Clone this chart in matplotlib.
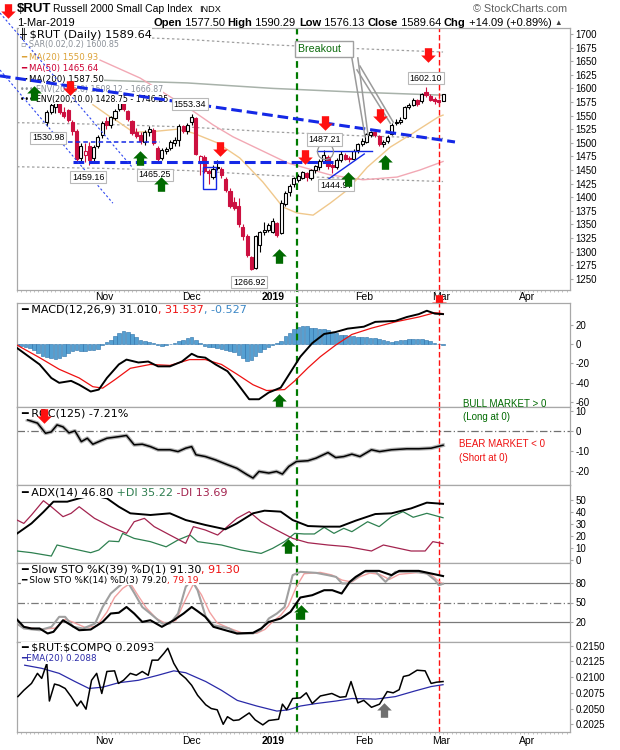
import numpy as np
import matplotlib
matplotlib.use("Agg")
import matplotlib.pyplot as plt
from matplotlib.path import Path
from matplotlib.patches import Rectangle

plt.rcParams["font.family"] = ["Liberation Sans", "DejaVu Sans"]
plt.rcParams["axes.unicode_minus"] = False

# x axis = trading day index: 0 = 4 Oct 2018, 20 = 1 Nov, 60 = 2 Jan 2019, 100 = 1 Mar 2019
month_pos = [20.5, 41, 60.2, 81.5, 99.5, 119.7]
month_lbl = ["Nov", "Dec", "2019", "Feb", "Mar", "Apr"]

# ---- daily candles, index 7 .. 100
bar_start = 7
opens = [1538, 1556, 1566, 1572, 1556, 1560, 1538, 1522, 1472, 1478, 1494, 1472, 1494,
         1514, 1540, 1532, 1546, 1562, 1576, 1558, 1540, 1520, 1514, 1502, 1520, 1524, 1490, 1472, 1485, 1490, 1500, 1505, 1530, 1522,
         1538, 1546, 1462, 1474, 1448, 1438, 1456, 1452, 1434, 1412, 1392, 1384, 1345, 1328, 1290, 1270, 1312, 1336, 1340,
         1336, 1352, 1334, 1388, 1410, 1424, 1432, 1436, 1444, 1436, 1450, 1456, 1466, 1474, 1460, 1456, 1468, 1478, 1472, 1470, 1486,
         1498, 1502, 1514, 1520, 1512, 1498, 1504, 1516, 1536, 1538, 1546, 1566, 1570, 1578, 1576, 1594, 1586, 1580, 1578,
         1577.50]
highs = [1560, 1575, 1580, 1576, 1566, 1562, 1542, 1526, 1500, 1500, 1502, 1496, 1514,
         1540, 1548, 1550, 1562, 1582, 1578, 1560, 1542, 1528, 1520, 1524, 1530, 1527, 1494, 1490, 1492, 1506, 1510, 1534, 1533, 1536,
         1553.34, 1548, 1478, 1477, 1452, 1460, 1468, 1456, 1437, 1416, 1400, 1398, 1350, 1333, 1292, 1330, 1338, 1354, 1352,
         1362, 1354, 1394, 1412, 1424, 1438, 1442, 1448, 1446, 1452, 1460, 1470, 1487.21, 1478, 1462, 1472, 1485, 1481, 1476, 1488, 1500,
         1508, 1518, 1522, 1522, 1514, 1506, 1514, 1536, 1544, 1548, 1568, 1574, 1582, 1580, 1592, 1602.10, 1590, 1584, 1581,
         1590.29]
lows = [1531, 1552, 1555, 1552, 1545, 1538, 1515, 1466, 1466, 1464, 1459.16, 1466, 1490,
        1508, 1526, 1528, 1542, 1558, 1558, 1540, 1515, 1508, 1498, 1496, 1512, 1496, 1465.25, 1468, 1480, 1487, 1494, 1494, 1518, 1517,
        1532, 1478, 1440, 1444, 1425, 1434, 1450, 1436, 1410, 1380, 1376, 1345, 1322, 1290, 1266.92, 1268, 1300, 1330, 1336,
        1334, 1326, 1332, 1384, 1402, 1418, 1428, 1434, 1430, 1432, 1444, 1450, 1462, 1452, 1444.97, 1452, 1465, 1468, 1464, 1468, 1482,
        1494, 1500, 1510, 1510, 1494, 1492, 1500, 1514, 1532, 1535, 1544, 1562, 1568, 1568, 1574, 1584, 1576, 1572, 1570,
        1576.13]
closes = [1556, 1570, 1574, 1556, 1549, 1542, 1522, 1471, 1495, 1485, 1469, 1492, 1511,
          1536, 1532, 1547, 1558, 1578, 1562, 1543, 1518, 1512, 1503, 1520, 1526, 1499, 1470, 1486, 1488, 1502, 1506, 1531, 1521, 1533,
          1548, 1480, 1476, 1449, 1445, 1452, 1454, 1440, 1414, 1384, 1380, 1350, 1328, 1293, 1268, 1328, 1336, 1339, 1348,
          1356, 1330, 1390, 1407, 1420, 1435, 1439, 1446, 1438, 1450, 1458, 1466, 1478, 1458, 1456, 1468, 1480, 1471, 1470, 1485, 1498,
          1503, 1516, 1520, 1515, 1498, 1502, 1510, 1533, 1538, 1541, 1566, 1570, 1578, 1572, 1589, 1588, 1578, 1576, 1575.5,
          1589.64]

# ---- overlays on the price panel
ma20_i = [17.8, 21.8, 23.5, 27.2, 31.2, 37.6, 41.3, 47, 52.3, 57.7, 62.4, 65.7, 69.5, 73.5, 77.5, 82.2, 87.6, 93, 98.8, 100]
ma20_v = [1570, 1548, 1540, 1520, 1520, 1525, 1518, 1500, 1472, 1428, 1382, 1371, 1367, 1389, 1413, 1455, 1492, 1518, 1547, 1550.93]
ma50_i = [19.5, 28.9, 41, 46, 50.7, 58.7, 63.5, 73.5, 81.2, 89.2, 94.6, 100]
ma50_v = [1652, 1619, 1560, 1533, 1511, 1481, 1463, 1441, 1432, 1437, 1450, 1465.64]
ma200_i = [0, 20, 40, 60, 80, 100]
ma200_v = [1618, 1615, 1610, 1600, 1593, 1587.50]
env5_hi = [1699, 1696, 1690, 1680, 1673, 1666.87]
env5_lo = [1537, 1534, 1529, 1520, 1513, 1508.12]
env10_lo = [1456, 1453, 1449, 1440, 1434, 1428.75]

label_i = [7.3, 16.7, 32.4, 40.6, 54.5, 72.2, 74.9, 96]
label_p = [1509, 1437, 1441, 1571, 1244, 1506, 1422, 1619]
label_txt = ["1530.98", "1459.16", "1465.25", "1553.34", "1266.92", "1487.21", "1444.97", "1602.10"]

dn_i = [-2.1, 12.4, 47.7, 67.7, 72.4, 85.1, 96.4, 99.1]
dn_p = [1742, 1600, 1489.5, 1473, 1535.5, 1550, 1660.5, 1207]
up_i = [3.9, 28.9, 33.8, 61.4, 77.8, 86.4]
up_p = [1592, 1471.5, 1425, 1291, 1434, 1464]

# ---- MACD(12,26,9)
macd_i = [0, 5.3, 8.05, 9.9, 12.7, 14.6, 17.3, 19.2, 21.1, 23.9, 25.7, 28.5, 30.8, 33.1, 35.9, 38.7, 41, 42.4, 44.2, 46.6,
          49.4, 51.6, 54.5, 56.8, 59.1, 61.9, 64.2, 66.5, 69.3, 72.1, 74.8, 77.6, 81.4, 84.1, 88.8, 91.5, 94.3, 96.2, 98.1, 100]
macd_v = [-4, -21, -35, -40, -38, -42, -49, -47, -35, -21, -16, -19, -18, -23, -23, -18, -10, -13, -14, -21,
          -28, -40, -57, -57, -50, -45, -29, -13, 1, 10.5, 12.5, 16, 18, 23, 24, 28, 31, 34.5, 31.5, 31.01]
sig_i = [0, 5.3, 9.9, 14.6, 17.8, 20.1, 22.9, 26.6, 31.3, 35.9, 40.5, 44.2, 48, 51.6, 55.4, 58.6, 62.8, 65.2, 68.3, 71.2,
         74.8, 78.6, 83.2, 88.8, 94.3, 98.1, 100]
sig_v = [-1, -14, -26, -35, -44, -45.5, -37, -25, -21, -22, -16, -16, -21, -31, -42, -48, -47, -38, -24.5, -13,
         -1, 10, 16.5, 23, 28, 32.5, 31.54]
macd_hist = [-1, -2, -3, -4, -6, -9, -12, -13, -14, -15,
             -14, -12, -9, -7, -6, -7, -7, -6, -6, -5,
             -1, 2, 4, 8, 11, 14, 13, 10, 7, 4,
             3, 2, 1, -1, -2, -1, 0, 1, 3, 4,
             6, 7, 4, 1, -2, -3, -3, -4, -5, -6,
             -7, -8, -11, -14, -17, -16, -12, -8, -5, -3,
             -1, 1, 3, 8, 12, 16, 18, 19, 19, 17,
             17, 16, 16, 15, 13, 11, 9, 9, 8, 8,
             7, 7, 7, 6, 6, 5, 4, 3, 2, 3,
             4, 4, 5, 5, 5, 5, 4, 3, 1, 0.5,
             -0.5]

# ---- ROC(125)
roc_i = [2.5, 4.8, 6.7, 8.05, 9.4, 10.8, 12.2, 13.6, 15.1, 16.5, 17.8, 19.2, 21.1, 23.9, 25.7, 27.5, 29.4, 31.3, 33.1, 35.9,
         37.8, 39.6, 41, 42, 44.2, 46.6, 49.4, 51.6, 54, 55.4, 56.8, 59.1, 60.9, 62.3, 63.8, 65.6, 68.3, 70.2, 73, 74.8,
         76.7, 78.6, 80.5, 83.2, 85.1, 87.9, 91.5, 94.3, 97.2, 100]
roc_v = [5.5, 3.9, -1.2, -0.5, 3, 2, -1, 0, -5.4, -3.7, -6.7, -5.4, -3.7, -2.9, -2.3, -7, -6.7, -7.9, -9.5, -9.5,
         -10.4, -8.7, -7.9, -12, -12.9, -14.6, -17, -18.8, -22, -23.7, -20.4, -21.2, -20.4, -21.7, -17.9, -15.4, -15, -13.7, -10.9, -13.4,
         -12.9, -11.7, -12.9, -9.5, -10.4, -9.5, -9, -9, -8.7, -7.21]

# ---- ADX(14)
adx_i = [0, 3.4, 6.2, 8.55, 11.8, 14.6, 17.7, 21.1, 23.9, 26.6, 31.3, 35.9, 39.6, 44.2, 48.9, 51.6, 55.4, 58.1, 61.9, 64.7,
         68.3, 72.1, 75.8, 79.5, 84.1, 87.9, 92.5, 96.2, 100]
adx_v = [22, 30.5, 40, 48.6, 48.6, 51.4, 54, 51.4, 44.4, 38.9, 37.5, 38.9, 33.3, 29.2, 25.6, 30.5, 38.9, 41.1, 40.3, 33.3,
         28.3, 27.8, 27.8, 32.8, 38.3, 38.9, 43, 47.8, 46.8]
pdi_i = [0, 3.4, 8.05, 9.4, 12.7, 17.3, 19.2, 21.6, 23.9, 24.8, 27.5, 31.3, 35, 37.8, 40.6, 42.4, 48, 52.6, 57.3, 60,
         62.8, 65.2, 67.4, 69.8, 72.1, 74.4, 76.7, 78.6, 82.3, 85, 87.9, 90.6, 93, 96.2, 100]
pdi_v = [7.5, 6.1, 3.3, 12.5, 9.7, 6.1, 8.3, 15.8, 15.3, 22.2, 18, 15.3, 11, 16.7, 20.8, 15.3, 12.5, 8.3, 5.5, 9.7,
         15.3, 22.2, 21.7, 21.7, 27.2, 22.2, 26.4, 23.6, 31.9, 27.8, 36.1, 40.3, 35.6, 38.9, 35.22]
mdi_i = [0, 1.6, 3.4, 6.2, 8.05, 10.8, 12.7, 14.6, 18.2, 22, 25.7, 27.5, 29.9, 32.2, 35.9, 39.6, 41.4, 44.2, 47.1, 49.8,
         51.6, 54.5, 57.3, 60.9, 64.7, 68.3, 73, 77.6, 83.2, 86, 92.5, 95.8, 97.6, 100]
mdi_v = [33.3, 30.5, 37.5, 49.4, 44.4, 36.1, 38.9, 44.4, 34.7, 27.8, 22.2, 31.9, 34.7, 27.8, 20.8, 13.9, 27.8, 25, 20.8, 29.2,
         34.7, 40.3, 31.9, 25, 18, 14.4, 12.5, 11.1, 7.5, 12.5, 7.5, 7.5, 15.3, 13.69]

# ---- Slow stochastics
k39_i = [0, 1.6, 3.4, 5.3, 7.2, 8.55, 10.8, 12.7, 14.6, 17.3, 20.1, 22, 23.9, 25.7, 27.5, 29.4, 31.3, 34, 36.8, 39.1,
         41, 42.4, 44.2, 46.1, 48.9, 51.6, 55.4, 57.3, 59.1, 61.9, 64.2, 66.5, 69.3, 72.1, 74, 76.2, 78.1, 79.5, 81.8, 85,
         87.9, 89.7, 94.3, 97.2, 100]
k39_v = [23.4, 12, 9.4, 9.4, 1.6, 4.2, 22.3, 14.5, 6.7, 7.8, 19.7, 32.8, 34, 43, 32.8, 19.7, 22.3, 12, 22.3, 32.8,
         43, 36.4, 27.6, 12, 6.7, 1.6, 2.6, 9.4, 19.7, 25, 35.4, 57.8, 61.4, 69.2, 69.2, 64, 82.2, 90, 99.4, 99.4,
         92.7, 99.4, 99.4, 95.3, 91.3]
k14_i = [0, 1.6, 5.3, 8.1, 9.9, 11.3, 13.2, 15.5, 18.3, 20.1, 22, 23.8, 25.7, 27.6, 29.4, 31.3, 34.1, 35.9, 37.8, 39.6,
         41, 42.4, 44.3, 46.1, 48, 49.8, 51.7, 55.4, 57.2, 59.1, 61, 62.8, 64.7, 66.5, 70.2, 73, 74.9, 76.3, 77.7, 79.5,
         81.4, 84.2, 86.5, 88.8, 93.4, 96.2, 98.1, 99, 100]
k14_v = [17, 9.4, 6.7, 12, 27.6, 27.6, 12, 9.4, 17, 43, 64, 74.5, 85, 64, 43, 32.8, 17, 17, 32.8, 74.5,
         85, 69, 27.6, 14.5, 12, 9.4, 1.6, 1.6, 6.7, 25, 32.8, 43, 92.7, 97.9, 96.3, 92.7, 90, 79.7, 79.7, 87.5,
         97.9, 97.9, 82.2, 97.9, 97.9, 95.3, 85, 77, 79.2]
d3_i = [0, 1.6, 5.3, 9, 11.3, 13.6, 16, 18.7, 21.1, 22.9, 24.8, 26.6, 28.5, 30.3, 32.7, 35, 37.3, 39.6, 41.5, 43.3,
        45.2, 47, 49.8, 52.6, 56.3, 58.2, 60, 61.9, 63.7, 65.6, 67.4, 71.2, 73.9, 76.3, 78.6, 80.4, 82.8, 85.1, 87.4, 89.7,
        94.4, 97.1, 99, 100]
d3_v = [16, 12, 8, 10, 24, 18, 11, 13, 35, 58, 72, 80, 60, 42, 25, 17, 22, 55, 80, 62,
        35, 18, 10, 3, 2, 8, 20, 30, 45, 75, 95, 97, 93, 85, 82, 90, 96, 94, 86, 94,
        97, 94, 83, 79.19]

# ---- $RUT:$COMPQ ratio
ratio_i = [0.2, 1.6, 3.4, 4.8, 5.8, 7, 7.6, 8.8, 9.9, 11.3, 12.7, 14.1, 15, 16.2, 17.5, 18.7, 19.9, 21.1, 22.9, 23.8,
           25, 26.6, 28, 29.4, 30.8, 31.7, 33.1, 34.5, 35.4, 36.8, 38.2, 39.6, 41, 42.4, 44.3, 45.6, 47, 48.4, 49.4, 50.8,
           52.1, 54.5, 55.9, 57.7, 59.1, 61.4, 62.3, 63.3, 64.7, 66.5, 67.9, 69.3, 71.2, 73.9, 75.8, 77.2, 78.4, 80, 81.4, 83.2,
           85.1, 86.9, 88.3, 89.7, 90.7, 92, 93.9, 95.8, 97.2, 98.5, 100]
ratio_v = [0.2069, 0.2079, 0.2090, 0.2106, 0.2098, 0.2122, 0.2062, 0.2089, 0.2087, 0.2082, 0.2069, 0.2054, 0.2062, 0.2049, 0.2095,
           0.2106, 0.2074, 0.2109, 0.2110, 0.2090, 0.2095, 0.2106, 0.2103, 0.2109, 0.2103, 0.2127, 0.2127, 0.2138, 0.2146, 0.2122,
           0.2106, 0.2098, 0.2087, 0.2071, 0.2056, 0.2050, 0.2048, 0.2025, 0.2037, 0.2031, 0.2032, 0.2043, 0.2032, 0.2024, 0.2031,
           0.2033, 0.2057, 0.2048, 0.2066, 0.2067, 0.2075, 0.2058, 0.2070, 0.2074, 0.2068, 0.2069, 0.2093, 0.2059, 0.2063, 0.2052,
           0.2057, 0.2077, 0.2075, 0.2080, 0.2101, 0.2103, 0.2111, 0.2110, 0.2090, 0.2092, 0.2093]
ema_i = [1.8, 5.8, 9.9, 13.6, 16.9, 20.1, 23.8, 28.5, 33.1, 36.8, 39.6, 44.3, 48, 51.7, 56.3, 61, 63.7, 66.5, 70.2, 74.9,
         78.6, 84.2, 88.8, 93.4, 97.2, 100]
ema_v = [0.2119, 0.2114, 0.2106, 0.2093, 0.2082, 0.2084, 0.2091, 0.2095, 0.2103, 0.2110, 0.2107, 0.2093, 0.2079, 0.2063, 0.2054,
         0.2046, 0.2048, 0.2054, 0.2058, 0.2062, 0.2066, 0.2065, 0.2069, 0.2078, 0.2085, 0.2088]

# ---- layout (pixels)
W, H = 620, 750
LEFT, RIGHT = 17, 570
XMIN, XMAX = 0, 129.8
BREAKOUT_DAY, SIGNAL_DAY = 65.7, 99.1
RED, CANDLE_RED, GREEN = "#ff1010", "#cc1040", "#006a00"
BORDER = "#a8a8a8"

DOWN = Path([(-0.25, 0.5), (0.25, 0.5), (0.25, 0.0), (0.5, 0.0), (0.0, -0.5), (-0.5, 0.0), (-0.25, 0.0), (0, 0)], closed=True)
UP = Path([(-0.25, -0.5), (0.25, -0.5), (0.25, 0.0), (0.5, 0.0), (0.0, 0.5), (-0.5, 0.0), (-0.25, 0.0), (0, 0)], closed=True)

fig = plt.figure(figsize=(W / 100, H / 100), dpi=100)


def panel(top, bottom, ylim, ticks, labels=None):
    ax = fig.add_axes([LEFT / W, 1 - bottom / H, (RIGHT - LEFT) / W, (bottom - top) / H])
    ax.set_xlim(XMIN, XMAX)
    ax.set_ylim(*ylim)
    ax.set_xticks([])
    ax.yaxis.tick_right()
    ax.set_yticks(ticks)
    ax.set_yticklabels(labels if labels else [str(t) for t in ticks])
    ax.tick_params(axis="y", length=2, pad=2, labelsize=7, color=BORDER)
    for s in ax.spines.values():
        s.set_color(BORDER)
        s.set_linewidth(0.9)
    ax.axvline(BREAKOUT_DAY, color="#007a00", lw=1.6, ls=(0, (3, 2)), zorder=2.5)
    ax.axvline(SIGNAL_DAY, color=RED, lw=1.0, ls=(0, (4, 2)), zorder=2.5)
    return ax


def months(ax):
    ax.set_xticks(month_pos)
    ax.set_xticklabels(month_lbl)
    ax.set_xticks(np.arange(0, 130), minor=True)
    ax.tick_params(axis="x", which="major", length=0, pad=1.5, labelsize=7.5)
    ax.tick_params(axis="x", which="minor", length=1.5, color="#b8b8b8")
    ax.get_xticklabels()[2].set_fontweight("bold")


def legend(ax, dy, parts, size=8, dx=4):
    prev = None
    for txt, col in parts:
        kw = dict(color=col, fontsize=size, family="DejaVu Sans", ha="left", zorder=4,
                  bbox=dict(boxstyle="square,pad=0", fc="white", ec="none"))
        if prev is None:
            prev = ax.annotate(txt, xy=(0, 1), xycoords="axes fraction", xytext=(dx, -dy),
                               textcoords="offset pixels", va="center", **kw)
        else:
            prev = ax.annotate(txt, xy=(1, 0), xycoords=prev, va="bottom", **kw)


def arrows(ax, xs, ys, path, color, ms=10.5):
    ax.plot(xs, ys, ls="none", marker=path, ms=ms, mfc=color, mec=color, mew=0, clip_on=False, zorder=7)


# ================= price panel
ax = panel(28, 290, (1229.4, 1711), list(range(1250, 1701, 25)))
ax.axvline(BREAKOUT_DAY, ymin=-13 / 262, ymax=0, color="#007a00", lw=1.6, ls=(0, (3, 2)), clip_on=False)
months(ax)

ax.plot(ma200_i, env5_hi, color="#a0a0a0", lw=0.9, ls=(0, (2, 2)), zorder=2)
ax.plot(ma200_i, env5_lo, color="#a0a0a0", lw=0.9, ls=(0, (2, 2)), zorder=2)
ax.plot(ma200_i, env10_lo, color="#a0a0a0", lw=0.9, ls=(0, (2, 2)), zorder=2)
ax.plot(ma200_i, ma200_v, color="#a8b2aa", lw=1.1, zorder=2)
ax.plot(ma50_i, ma50_v, color="#f2a8b4", lw=1.0, zorder=2)
ax.plot(ma20_i, ma20_v, color="#f0c88c", lw=1.0, zorder=2)

prev_close = opens[0]
for k in range(len(closes)):
    i = bar_start + k
    o, h, l, c = opens[k], highs[k], lows[k], closes[k]
    col = CANDLE_RED if c < prev_close else "black"
    ax.vlines(i, l, h, color=col, lw=0.8, zorder=3)
    face = "white" if c >= o else col
    ax.add_patch(Rectangle((i - 0.36, min(o, c)), 0.72, max(abs(c - o), 0.9),
                           facecolor=face, edgecolor=col, lw=0.8, zorder=3.1))
    prev_close = c

legend(ax, 6.7, [("╫ \\$RUT (Daily) 1589.64", "black")], size=8.2, dx=2)
legend(ax, 16.5, [("▫ SAR(0.02,0.2) 1600.85", "#8a9098")], size=5.8, dx=4)
legend(ax, 29.3, [("━ MA(20) 1550.93", "#dca238")], size=6.2, dx=4)
legend(ax, 40.7, [("━ MA(50) 1465.64", "#cc0033")], size=6.2, dx=4)
legend(ax, 51.7, [("━ MA(200) 1587.50", "black")], size=6.2, dx=4)
legend(ax, 61.7, [("••• ENV(200,5.0) 1508.12 - 1666.87", "#8a9098")], size=5.7, dx=3)
legend(ax, 71.7, [("••• ENV(200,10.0) 1428.75 - 1746.25", "black")], size=5.7, dx=3)

# drawn trendlines
ax.plot([-4, 102.8], [1623, 1501.5], color="#1428e6", lw=2.2, ls=(0, (3.5, 1.6)), clip_on=False, zorder=5)
ax.plot([13.1, 74.6], [1465.3, 1465.3], color="#1428e6", lw=2.2, ls=(0, (3.5, 1.6)), zorder=5)
ax.plot([12, 33.6], [1501.5, 1501.5], color="#1428e6", lw=1.1, ls=(0, (3, 2)), zorder=5)
ax.plot([-4, 27], [1738.6, 1455.5], color="#3048f0", lw=0.8, ls=(0, (2, 2)), clip_on=False, zorder=5)
ax.plot([-4, 22.5], [1633.8, 1389], color="#3048f0", lw=0.8, ls=(0, (2, 2)), clip_on=False, zorder=5)
ax.plot([70.4, 83.3], [1485.5, 1485.5], color="#1428e6", lw=1.0, zorder=5)
ax.plot([72.5, 81.5], [1430, 1479.4], color="#1428e6", lw=1.0, zorder=5)
ax.add_patch(Rectangle((43.7, 1415), 3.0, 41, fill=False, edgecolor="#1428e6", lw=1.0, zorder=5))
ax.plot([72.3], [1485], ls="none", marker="o", ms=11.5, mfc="none", mec="#909090", mew=0.9, zorder=5)

# breakout callout
for xs, ys in [([78.6, 81.7], [1656, 1511]), ([80.0, 82.4], [1656, 1514]),
               ([79.8, 87.6], [1634, 1536]), ([80.5, 88.3], [1641, 1538])]:
    ax.plot(xs, ys, color="#9a9a9a", lw=1.1, zorder=5)
ax.text(65.9, 1672.4, "Breakout   ", ha="left", va="center", color="#0a6a0a", fontsize=7.7, zorder=6.5,
        bbox=dict(boxstyle="square,pad=0.3", fc="white", ec="#a0a0a0", lw=1.0))

for xi, yp, t in zip(label_i, label_p, label_txt):
    ax.text(xi, yp, t, ha="center", va="center", fontsize=6.4, zorder=6,
            bbox=dict(boxstyle="square,pad=0.18", fc="white", ec="#b8b8b8", lw=0.8))

arrows(ax, dn_i, dn_p, DOWN, RED)
arrows(ax, up_i, up_p, UP, GREEN)

# header
fig.text(17 / W, 1 - 9 / H, "\\$RUT", fontsize=9.5, weight="bold", va="center")
fig.text(53 / W, 1 - 9 / H, "Russell 2000 Small Cap Index", fontsize=7.5, va="center")
fig.text(199 / W, 1 - 9.5 / H, "INDX", fontsize=6.6, va="center")
fig.text(567 / W, 1 - 9.5 / H, "© StockCharts.com", fontsize=7.8, va="center", ha="right", color="#606060")
fig.text(17 / W, 1 - 22.7 / H, "1-Mar-2019", fontsize=8, va="center")
prev = fig.text(153 / W, 1 - 22.7 / H, "Open", fontsize=8, weight="bold", va="center")
for txt, bold in [(" 1577.50 ", False), ("High", True), (" 1590.29 ", False), ("Low", True),
                  (" 1576.13 ", False), ("Close", True), (" 1589.64 ", False), ("Chg", True),
                  (" +14.09 (+0.89%) ", False)]:
    prev = ax.annotate(txt, xy=(1, 0), xycoords=prev, va="bottom", ha="left", fontsize=8,
                       weight="bold" if bold else "normal")
ax.annotate("▲", xy=(1, 0.1), xycoords=prev, va="bottom", ha="left", fontsize=5.5, color="#404040")

# ================= MACD
ax = panel(303, 407, (-65, 42.5), [20, 0, -20, -40, -60])
ax.bar(np.arange(len(macd_hist)), macd_hist, width=0.85, color="#55a0d2", edgecolor="#2a6fa8", lw=0.4, zorder=2)
ax.plot(sig_i, sig_v, color="#ee1111", lw=0.9, zorder=3)
ax.plot(macd_i, macd_v, color="black", lw=1.4, zorder=3)
legend(ax, 7, [("━ MACD(12,26,9) 31.010", "black"), (", 31.537", "#ee1111"), (", -0.527", "#3b87c6")])
arrows(ax, [61.4], [-59], UP, GREEN)

# ================= ROC
ax = panel(407, 485, (-27.2, 12), [10, 0, -10, -20])
ax.axhline(0, color="#707070", lw=0.9, ls=(0, (6, 2, 1, 2)), zorder=2)
ax.plot(roc_i, roc_v, color="#b4b4b4", lw=2.8, zorder=2.8)
ax.plot(roc_i, roc_v, color="black", lw=1.1, zorder=3)
legend(ax, 7, [("━ ROC(125) -7.21%", "black")])
arrows(ax, [6.4], [7.5], DOWN, RED)
ax.text(104.6, 13.6, "BULL MARKET > 0", color="#006a00", fontsize=7, va="center", ha="left")
ax.text(104.6, 7.0, "(Long at 0)", color="#006a00", fontsize=7, va="center", ha="left")
ax.text(103.7, -6.5, "BEAR MARKET < 0", color="#ee1111", fontsize=7, va="center", ha="left")
ax.text(103.7, -13.6, "(Short at 0)", color="#ee1111", fontsize=7, va="center", ha="left")

# ================= ADX
ax = panel(485, 563, (-2.5, 62.5), [50, 40, 30, 20, 10, 0])
ax.plot(pdi_i, pdi_v, color="#2e8050", lw=0.9, zorder=3)
ax.plot(mdi_i, mdi_v, color="#a3244f", lw=0.9, zorder=3)
ax.plot(adx_i, adx_v, color="black", lw=1.4, zorder=3)
legend(ax, 7.7, [("━ ADX(14) 46.80", "black"), (" +DI 35.22", "#2e7d4f"), (" -DI 13.69", "#a3244f")])
arrows(ax, [63.7], [11.7], UP, GREEN)

# ================= Slow STO
ax = panel(563, 642, (-11.7, 111.7), [80, 50, 20])
ax.axhline(80, color="#7a7a7a", lw=0.9, zorder=2)
ax.axhline(20, color="#7a7a7a", lw=0.9, zorder=2)
ax.axhline(50, color="#7a7a7a", lw=0.9, ls=(0, (6, 2, 1, 2)), zorder=2)
ax.plot(d3_i, d3_v, color="#f2a0a0", lw=1.0, zorder=3)
ax.plot(k14_i, k14_v, color="#a0a0a0", lw=1.5, zorder=3)
ax.plot(k39_i, k39_v, color="black", lw=1.5, zorder=3.2)
legend(ax, 7, [("━ Slow STO %K(39) %D(1) 91.30", "black"), (", 91.30", "#ee1111")])
legend(ax, 17, [("━ Slow STO %K(14) %D(3) 79.20", "black"), (", 79.19", "#ee1111")], size=6.5)
arrows(ax, [66.6], [34.8], UP, GREEN)

# ================= $RUT:$COMPQ
ax = panel(642, 732, (0.20127, 0.21559), [0.2150, 0.2125, 0.2100, 0.2075, 0.2050, 0.2025],
           ["0.2150", "0.2125", "0.2100", "0.2075", "0.2050", "0.2025"])
months(ax)
ax.tick_params(axis="x", which="major", pad=3)
ax.plot(ema_i, ema_v, color="#2a2aa8", lw=0.9, zorder=3)
ax.plot(ratio_i, ratio_v, color="black", lw=1.1, zorder=3.2)
legend(ax, 5.3, [("━ \\$RUT:\\$COMPQ 0.2093", "black")])
legend(ax, 17, [("━EMA(20) 0.2088", "#2a2aa8")], size=6.3)
arrows(ax, [86.2], [0.20478], UP, "#707070")

fig.savefig("out.png", dpi=100)
